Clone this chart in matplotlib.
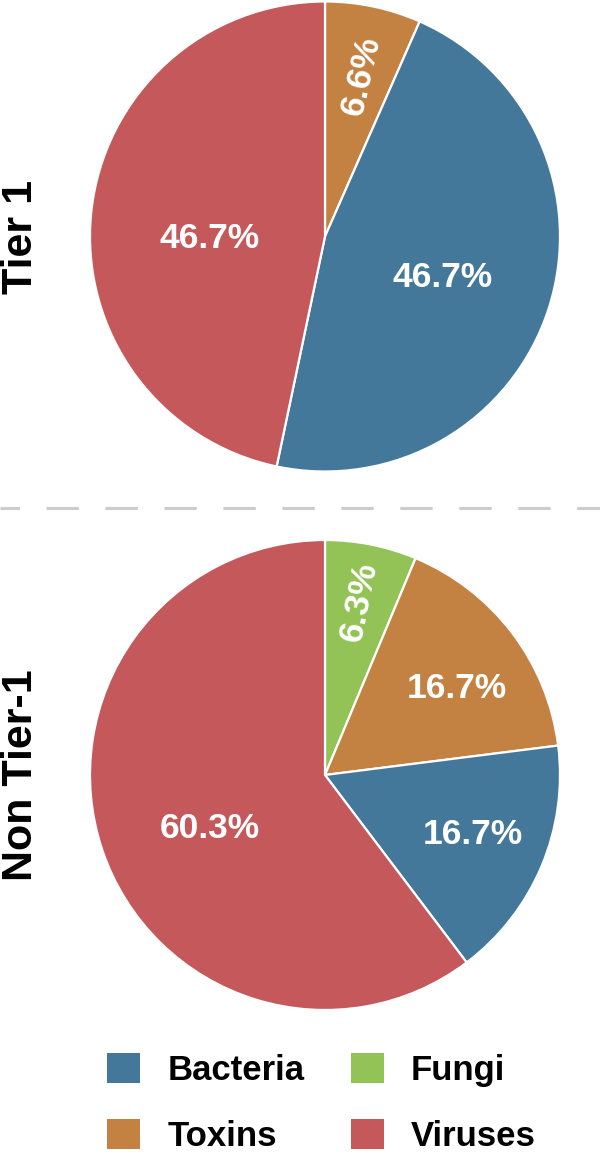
import matplotlib

matplotlib.use("Agg")

import matplotlib.pyplot as plt
import numpy as np
from matplotlib.lines import Line2D
from matplotlib.patches import Patch

plt.rcParams["font.family"] = ["Liberation Sans", "DejaVu Sans"]
plt.rcParams["font.weight"] = "bold"

colors = {
    "Bacteria": "#44789a",
    "Fungi": "#93c257",
    "Toxins": "#c38142",
    "Viruses": "#c4585a",
}

tier1_labels = ["Toxins", "Bacteria", "Viruses"]
tier1_values = [6.6, 46.7, 46.7]

non_tier1_labels = ["Fungi", "Toxins", "Bacteria", "Viruses"]
non_tier1_values = [6.3, 16.7, 16.7, 60.3]

panel_titles = ["Tier 1", "Non Tier-1"]
# column-major order so rows read Bacteria/Fungi, Toxins/Viruses
legend_order = ["Bacteria", "Toxins", "Fungi", "Viruses"]

W, H = 600, 1156
fig = plt.figure(figsize=(W / 100, H / 100), dpi=100)


def draw_pie(cx, cy, r, labels, values, label_radius, label_nudge, title):
    ax = fig.add_axes([(cx - r) / W, 1 - (cy + r) / H, 2 * r / W, 2 * r / H])
    ax.pie(
        values,
        colors=[colors[k] for k in labels],
        startangle=90,
        counterclock=False,
        wedgeprops=dict(edgecolor="white", linewidth=1.6),
    )
    ax.set_xlim(-1, 1)
    ax.set_ylim(-1, 1)
    ax.axis("off")

    total = float(np.sum(values))
    start = 0.0
    for v, lr, nudge in zip(values, label_radius, label_nudge):
        mid_cw = (start + v / 2) / total * 360
        ang = 90 - mid_cw + nudge
        theta = np.deg2rad(ang)
        rot = ang if v < 10 else 0
        ax.text(lr * np.cos(theta), lr * np.sin(theta), f"{v:.1f}%",
                color="white", fontsize=25.5, fontweight="bold",
                ha="center", va="center", rotation=rot)
        start += v

    fig.text(21 / W, 1 - cy / H, title, rotation=90, fontsize=31,
             fontweight="bold", ha="center", va="center")


draw_pie(325, 236.5, 235, tier1_labels, tier1_values,
         [0.70, 0.53, 0.49], [-1, -1.5, 7], panel_titles[0])
draw_pie(325, 775, 235, non_tier1_labels, non_tier1_values,
         [0.75, 0.67, 0.68, 0.54], [0, -4, 1, 6.4], panel_titles[1])

# dashed separator between panels
fig.add_artist(Line2D([0, 1], [1 - 508 / H, 1 - 508 / H], color="#cccccc",
                      linewidth=2.2, linestyle=(4.25, (10.6, 8.7)), transform=fig.transFigure))

handles = [Patch(facecolor=colors[k], edgecolor="none", label=k) for k in legend_order]
fig.legend(
    handles=handles,
    ncol=2,
    loc="center",
    bbox_to_anchor=(321.5 / W, 1 - 1103 / H),
    frameon=False,
    prop=dict(size=25, weight="bold"),
    handlelength=0.95,
    handleheight=0.95,
    handletextpad=0.78,
    columnspacing=1.35,
    labelspacing=0.95,
)

fig.savefig("out.png", dpi=100)
